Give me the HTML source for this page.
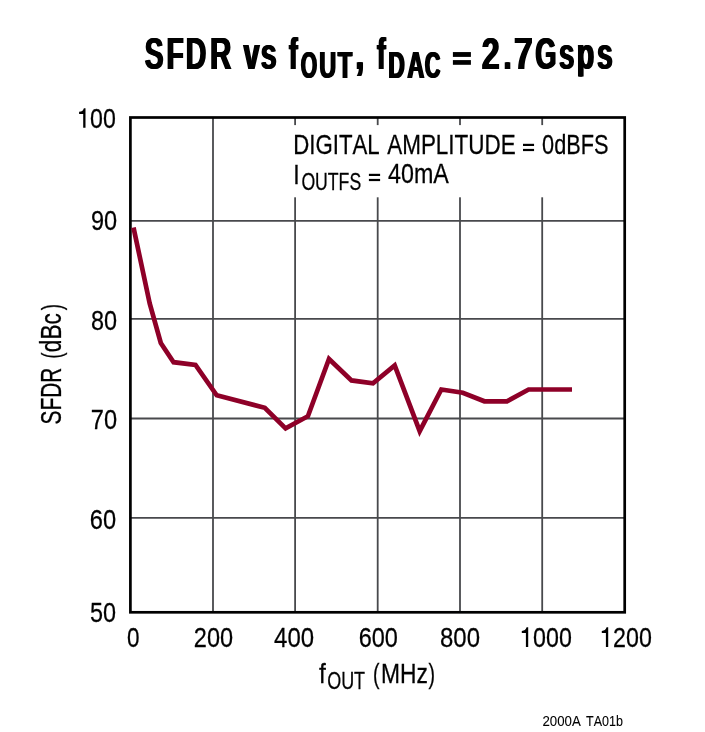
<!DOCTYPE html>
<html lang="en">
<head>
<meta charset="utf-8">
<title>SFDR vs fOUT, fDAC = 2.7Gsps</title>
<style>
html,body{margin:0;padding:0;background:#fff;}
body{width:705px;height:732px;overflow:hidden;}
svg{display:block;}
#txt{opacity:0.999;}
text{font-family:"Liberation Sans", sans-serif;fill:#000;font-kerning:none;}
.b{font-weight:bold;}
</style>
</head>
<body>
<svg role="img" aria-label="SFDR vs fOUT, fDAC = 2.7Gsps" width="705" height="732" viewBox="0 0 705 732">
<defs><clipPath id="cp"><rect x="570" y="30" width="30" height="46.4"/></clipPath></defs>
<rect x="0" y="0" width="705" height="732" fill="#fff"/>
<g stroke="#48494c" stroke-width="1.8" fill="none">
<line x1="213.00" y1="117.50" x2="213.00" y2="612.30"/>
<line x1="295.10" y1="117.50" x2="295.10" y2="612.30"/>
<line x1="377.70" y1="117.50" x2="377.70" y2="612.30"/>
<line x1="460.00" y1="117.50" x2="460.00" y2="612.30"/>
<line x1="542.20" y1="117.50" x2="542.20" y2="612.30"/>
<line x1="130.40" y1="220.90" x2="624.70" y2="220.90"/>
<line x1="130.40" y1="318.90" x2="624.70" y2="318.90"/>
<line x1="130.40" y1="418.50" x2="624.70" y2="418.50"/>
<line x1="130.40" y1="517.80" x2="624.70" y2="517.80"/>
</g>
<rect x="289" y="125.1" width="326" height="72.2" fill="#fff"/>
<rect x="130.40" y="117.50" width="494.30" height="494.80" fill="none" stroke="#000" stroke-width="2.7"/>
<polyline fill="none" stroke="#8e0028" stroke-width="4.7" stroke-linejoin="miter" stroke-miterlimit="10" stroke-linecap="butt" points="133.5,227.5 149.7,303.5 160.8,343.0 173.6,362.2 195.5,364.9 216.7,395.3 264.8,407.8 285.6,428.3 307.9,416.2 329.0,359.0 351.5,380.4 373.0,383.3 394.7,365.4 419.7,431.2 441.3,389.5 462.8,392.7 484.4,401.3 507.0,401.3 528.6,389.5 572.0,389.5"/>
<rect x="452.90" y="52.07" width="18.00" height="4.83"/><rect x="452.90" y="60.10" width="18.00" height="4.70"/>
<rect x="523.00" y="143.80" width="11.06" height="2.20"/><rect x="523.00" y="148.90" width="11.06" height="2.20"/>
<rect x="368.90" y="173.80" width="11.20" height="2.20"/><rect x="368.90" y="178.90" width="11.20" height="2.20"/>
<path d="M85.50 127.80 H83.20 V113.90 H79.10 V111.80 Q82.90 111.60 83.90 108.15 H85.50 Z"/>
<path d="M528.20 646.90 H525.90 V633.00 H521.80 V630.90 Q525.60 630.70 526.60 627.25 H528.20 Z"/>
<path d="M608.20 646.90 H605.90 V633.00 H601.80 V630.90 Q605.60 630.70 606.60 627.25 H608.20 Z"/>
<g id="txt">
<g id="t1a"><text class="b" font-size="44.60" transform="translate(143.99 68.80) scale(0.6325 1)">S</text><text class="b" font-size="44.60" transform="translate(144.79 68.80) scale(0.6325 1)">S</text><text class="b" font-size="44.60" transform="translate(145.59 68.80) scale(0.6325 1)">S</text></g>
<g id="t1b"><text class="b" font-size="44.60" transform="translate(165.84 68.80) scale(0.6232 1)">F</text><text class="b" font-size="44.60" transform="translate(166.64 68.80) scale(0.6232 1)">F</text><text class="b" font-size="44.60" transform="translate(167.44 68.80) scale(0.6232 1)">F</text></g>
<g id="t1c"><text class="b" font-size="44.60" transform="translate(184.99 68.80) scale(0.6398 1)">D</text><text class="b" font-size="44.60" transform="translate(185.79 68.80) scale(0.6398 1)">D</text><text class="b" font-size="44.60" transform="translate(186.59 68.80) scale(0.6398 1)">D</text></g>
<g id="t1d"><text class="b" font-size="44.60" transform="translate(209.22 68.80) scale(0.6641 1)">R</text><text class="b" font-size="44.60" transform="translate(210.02 68.80) scale(0.6641 1)">R</text><text class="b" font-size="44.60" transform="translate(210.82 68.80) scale(0.6641 1)">R</text></g>
<g id="t2a"><text class="b" font-size="44.60" transform="translate(242.79 68.80) scale(0.6384 1)">v</text><text class="b" font-size="44.60" transform="translate(243.59 68.80) scale(0.6384 1)">v</text><text class="b" font-size="44.60" transform="translate(244.39 68.80) scale(0.6384 1)">v</text></g>
<g id="t2b"><text class="b" font-size="44.60" transform="translate(259.99 68.80) scale(0.6423 1)">s</text><text class="b" font-size="44.60" transform="translate(260.79 68.80) scale(0.6423 1)">s</text><text class="b" font-size="44.60" transform="translate(261.59 68.80) scale(0.6423 1)">s</text></g>
<g id="t3"><text class="b" font-size="44.60" transform="translate(288.37 68.80) scale(0.5643 1)">f</text><text class="b" font-size="44.60" transform="translate(289.17 68.80) scale(0.5643 1)">f</text><text class="b" font-size="44.60" transform="translate(289.97 68.80) scale(0.5643 1)">f</text></g>
<g id="t4a"><text class="b" font-size="36.20" transform="translate(299.94 77.90) scale(0.5824 1)">O</text><text class="b" font-size="36.20" transform="translate(300.74 77.90) scale(0.5824 1)">O</text><text class="b" font-size="36.20" transform="translate(301.54 77.90) scale(0.5824 1)">O</text></g>
<g id="t4b"><text class="b" font-size="36.20" transform="translate(318.39 77.90) scale(0.6480 1)">U</text><text class="b" font-size="36.20" transform="translate(319.19 77.90) scale(0.6480 1)">U</text><text class="b" font-size="36.20" transform="translate(319.99 77.90) scale(0.6480 1)">U</text></g>
<g id="t4c"><text class="b" font-size="36.20" transform="translate(336.93 77.90) scale(0.6568 1)">T</text><text class="b" font-size="36.20" transform="translate(337.73 77.90) scale(0.6568 1)">T</text><text class="b" font-size="36.20" transform="translate(338.53 77.90) scale(0.6568 1)">T</text></g>
<g id="t5"><text class="b" font-size="44.60" transform="translate(354.62 68.80) scale(0.7209 1)">,</text><text class="b" font-size="44.60" transform="translate(355.42 68.80) scale(0.7209 1)">,</text><text class="b" font-size="44.60" transform="translate(356.22 68.80) scale(0.7209 1)">,</text></g>
<g id="t6"><text class="b" font-size="44.60" transform="translate(376.16 68.80) scale(0.5819 1)">f</text><text class="b" font-size="44.60" transform="translate(376.96 68.80) scale(0.5819 1)">f</text><text class="b" font-size="44.60" transform="translate(377.76 68.80) scale(0.5819 1)">f</text></g>
<g id="t7a"><text class="b" font-size="36.20" transform="translate(387.58 77.90) scale(0.6261 1)">D</text><text class="b" font-size="36.20" transform="translate(388.38 77.90) scale(0.6261 1)">D</text><text class="b" font-size="36.20" transform="translate(389.18 77.90) scale(0.6261 1)">D</text></g>
<g id="t7b"><text class="b" font-size="36.20" transform="translate(406.62 77.90) scale(0.6464 1)">A</text><text class="b" font-size="36.20" transform="translate(407.42 77.90) scale(0.6464 1)">A</text><text class="b" font-size="36.20" transform="translate(408.22 77.90) scale(0.6464 1)">A</text></g>
<g id="t7c"><text class="b" font-size="36.20" transform="translate(424.12 77.90) scale(0.5915 1)">C</text><text class="b" font-size="36.20" transform="translate(424.92 77.90) scale(0.5915 1)">C</text><text class="b" font-size="36.20" transform="translate(425.72 77.90) scale(0.5915 1)">C</text></g>
<g id="t9a"><text class="b" font-size="44.60" transform="translate(480.88 68.80) scale(0.7219 1)">2</text><text class="b" font-size="44.60" transform="translate(481.68 68.80) scale(0.7219 1)">2</text><text class="b" font-size="44.60" transform="translate(482.48 68.80) scale(0.7219 1)">2</text></g>
<g id="t9b"><text class="b" font-size="44.60" transform="translate(502.73 68.80) scale(0.6515 1)">.</text><text class="b" font-size="44.60" transform="translate(503.53 68.80) scale(0.6515 1)">.</text><text class="b" font-size="44.60" transform="translate(504.33 68.80) scale(0.6515 1)">.</text></g>
<g id="t9c"><text class="b" font-size="44.60" transform="translate(513.25 68.80) scale(0.7550 1)">7</text><text class="b" font-size="44.60" transform="translate(514.05 68.80) scale(0.7550 1)">7</text><text class="b" font-size="44.60" transform="translate(514.85 68.80) scale(0.7550 1)">7</text></g>
<g id="t9d"><text class="b" font-size="44.60" transform="translate(534.59 68.80) scale(0.6047 1)">G</text><text class="b" font-size="44.60" transform="translate(535.39 68.80) scale(0.6047 1)">G</text><text class="b" font-size="44.60" transform="translate(536.19 68.80) scale(0.6047 1)">G</text></g>
<g id="t9e"><text class="b" font-size="44.60" transform="translate(558.13 68.80) scale(0.6213 1)">s</text><text class="b" font-size="44.60" transform="translate(558.93 68.80) scale(0.6213 1)">s</text><text class="b" font-size="44.60" transform="translate(559.73 68.80) scale(0.6213 1)">s</text></g>
<g id="t9f" clip-path="url(#cp)"><text class="b" font-size="44.60" transform="translate(576.03 68.80) scale(0.6363 1)">p</text><text class="b" font-size="44.60" transform="translate(576.83 68.80) scale(0.6363 1)">p</text><text class="b" font-size="44.60" transform="translate(577.63 68.80) scale(0.6363 1)">p</text></g>
<g id="t9g"><text class="b" font-size="44.60" transform="translate(596.32 68.80) scale(0.6260 1)">s</text><text class="b" font-size="44.60" transform="translate(597.12 68.80) scale(0.6260 1)">s</text><text class="b" font-size="44.60" transform="translate(597.92 68.80) scale(0.6260 1)">s</text></g>
<g id="y100"><text stroke="#000" stroke-width="0.25" stroke-linejoin="miter" vector-effect="non-scaling-stroke" font-size="28.30" transform="translate(90.12 127.80) scale(0.8183 1)">00</text></g>
<g id="y90"><text stroke="#000" stroke-width="0.25" stroke-linejoin="miter" vector-effect="non-scaling-stroke" font-size="28.30" transform="translate(90.92 230.10) scale(0.8314 1)">90</text></g>
<g id="y80"><text stroke="#000" stroke-width="0.25" stroke-linejoin="miter" vector-effect="non-scaling-stroke" font-size="28.30" transform="translate(91.01 330.10) scale(0.8287 1)">80</text></g>
<g id="y70"><text stroke="#000" stroke-width="0.25" stroke-linejoin="miter" vector-effect="non-scaling-stroke" font-size="28.30" transform="translate(90.81 429.00) scale(0.8350 1)">70</text></g>
<g id="y60"><text stroke="#000" stroke-width="0.25" stroke-linejoin="miter" vector-effect="non-scaling-stroke" font-size="28.30" transform="translate(89.72 529.10) scale(0.8363 1)">60</text></g>
<g id="y50"><text stroke="#000" stroke-width="0.25" stroke-linejoin="miter" vector-effect="non-scaling-stroke" font-size="28.30" transform="translate(89.99 622.00) scale(0.8276 1)">50</text></g>
<g id="x0"><text stroke="#000" stroke-width="0.25" stroke-linejoin="miter" vector-effect="non-scaling-stroke" font-size="28.30" transform="translate(126.95 646.90) scale(0.7946 1)">0</text></g>
<g id="x200"><text stroke="#000" stroke-width="0.25" stroke-linejoin="miter" vector-effect="non-scaling-stroke" font-size="28.30" transform="translate(193.84 646.90) scale(0.8313 1)">200</text></g>
<g id="x400"><text stroke="#000" stroke-width="0.25" stroke-linejoin="miter" vector-effect="non-scaling-stroke" font-size="28.30" transform="translate(274.07 646.90) scale(0.8469 1)">400</text></g>
<g id="x600"><text stroke="#000" stroke-width="0.25" stroke-linejoin="miter" vector-effect="non-scaling-stroke" font-size="28.30" transform="translate(358.63 646.90) scale(0.8304 1)">600</text></g>
<g id="x800"><text stroke="#000" stroke-width="0.25" stroke-linejoin="miter" vector-effect="non-scaling-stroke" font-size="28.30" transform="translate(439.98 646.90) scale(0.8467 1)">800</text></g>
<g id="x1000"><text stroke="#000" stroke-width="0.25" stroke-linejoin="miter" vector-effect="non-scaling-stroke" font-size="28.30" transform="translate(533.12 646.90) scale(0.8210 1)">000</text></g>
<g id="x1200"><text stroke="#000" stroke-width="0.25" stroke-linejoin="miter" vector-effect="non-scaling-stroke" font-size="28.30" transform="translate(613.05 646.90) scale(0.8224 1)">200</text></g>
<g id="xa1"><text stroke="#000" stroke-width="0.25" stroke-linejoin="miter" vector-effect="non-scaling-stroke" font-size="28.30" transform="translate(318.93 682.60) scale(0.8663 1)">f</text></g>
<g id="xa2"><text stroke="#000" stroke-width="0.25" stroke-linejoin="miter" vector-effect="non-scaling-stroke" font-size="24.00" transform="translate(327.17 688.80) scale(0.7484 1)">OUT</text></g>
<g id="xa3"><text stroke="#000" stroke-width="0.25" stroke-linejoin="miter" vector-effect="non-scaling-stroke" font-size="27.20" transform="translate(372.92 682.60) scale(0.7141 1)">(</text></g>
<g id="xa4"><text stroke="#000" stroke-width="0.25" stroke-linejoin="miter" vector-effect="non-scaling-stroke" font-size="28.30" transform="translate(380.95 682.60) scale(0.8056 1)">MHz</text></g>
<g id="xa5"><text stroke="#000" stroke-width="0.25" stroke-linejoin="miter" vector-effect="non-scaling-stroke" font-size="27.20" transform="translate(428.61 682.60) scale(0.7210 1)">)</text></g>
<g id="a1"><text stroke="#000" stroke-width="0.25" stroke-linejoin="miter" vector-effect="non-scaling-stroke" font-size="28.30" transform="translate(293.26 153.70) scale(0.7854 1)">DIGITAL</text></g>
<g id="a2"><text stroke="#000" stroke-width="0.25" stroke-linejoin="miter" vector-effect="non-scaling-stroke" font-size="28.30" transform="translate(387.18 153.70) scale(0.7941 1)">AMPLITUDE</text></g>
<g id="a4"><text stroke="#000" stroke-width="0.25" stroke-linejoin="miter" vector-effect="non-scaling-stroke" font-size="28.30" transform="translate(542.08 153.70) scale(0.7674 1)">0dBFS</text></g>
<g id="a5"><text stroke="#000" stroke-width="0.25" stroke-linejoin="miter" vector-effect="non-scaling-stroke" font-size="28.30" transform="translate(293.30 183.50) scale(0.8146 1)">I</text></g>
<g id="a6"><text stroke="#000" stroke-width="0.25" stroke-linejoin="miter" vector-effect="non-scaling-stroke" font-size="24.00" transform="translate(301.39 189.90) scale(0.7352 1)">OUTFS</text></g>
<g id="a8"><text stroke="#000" stroke-width="0.25" stroke-linejoin="miter" vector-effect="non-scaling-stroke" font-size="28.30" transform="translate(387.99 183.40) scale(0.8228 1)">40mA</text></g>
<g id="f1"><text stroke="#000" stroke-width="0.10" stroke-linejoin="miter" vector-effect="non-scaling-stroke" font-size="15.40" transform="translate(542.48 725.60) scale(0.8599 1)">2000A</text></g>
<g id="f2"><text stroke="#000" stroke-width="0.10" stroke-linejoin="miter" vector-effect="non-scaling-stroke" font-size="15.40" transform="translate(586.03 725.60) scale(0.8143 1)">TA01b</text></g>
<g id="r1"><text stroke="#000" stroke-width="0.25" vector-effect="non-scaling-stroke" font-size="28.60" transform="translate(61.10 424.42) rotate(-90) scale(0.7304 1)">SFDR</text></g>
<g id="r2"><text stroke="#000" stroke-width="0.25" vector-effect="non-scaling-stroke" font-size="27.40" transform="translate(61.10 358.63) rotate(-90) scale(0.6814 1)">(</text></g>
<g id="r3"><text stroke="#000" stroke-width="0.25" vector-effect="non-scaling-stroke" font-size="28.60" transform="translate(61.10 352.23) rotate(-90) scale(0.7934 1)">dBc</text></g>
<g id="r4"><text stroke="#000" stroke-width="0.25" vector-effect="non-scaling-stroke" font-size="27.40" transform="translate(61.10 310.29) rotate(-90) scale(0.6896 1)">)</text></g>
</g>
</svg>
</body>
</html>
